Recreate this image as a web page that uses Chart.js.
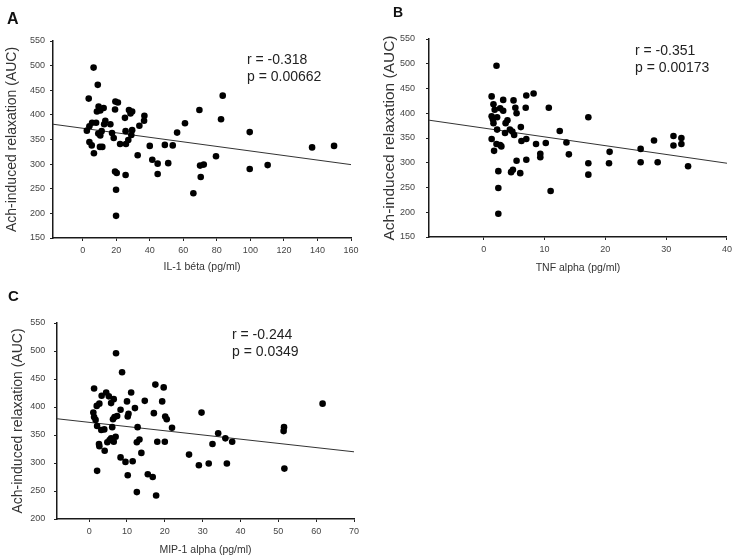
<!DOCTYPE html>
<html><head><meta charset="utf-8">
<script src="https://cdn.jsdelivr.net/npm/chart.js@4/dist/chart.umd.min.js"></script>
<style>
body{margin:0;background:#fff;width:736px;height:560px;position:relative;overflow:hidden;font-family:"Liberation Sans",Arial,sans-serif;}
canvas{position:absolute;}
.lbl{position:absolute;font-weight:bold;color:#111;line-height:1;}
.ann{position:absolute;font-size:14px;line-height:17px;color:#222;white-space:nowrap;}
</style></head><body>
<canvas id="cA" width="370" height="280" style="left:0;top:0"></canvas>
<canvas id="cB" width="366" height="280" style="left:370px;top:0"></canvas>
<canvas id="cC" width="370" height="280" style="left:0;top:280px"></canvas>
<div class="lbl" style="left:7px;top:11px;font-size:16px">A</div>
<div class="lbl" style="left:393px;top:5px;font-size:14px">B</div>
<div class="lbl" style="left:8px;top:288px;font-size:15px">C</div>
<div class="ann" style="left:247px;top:51px">r = -0.318<br>p = 0.00662</div>
<div class="ann" style="left:635px;top:42px">r = -0.351<br>p = 0.00173</div>
<div class="ann" style="left:232px;top:326px">r = -0.244<br>p = 0.0349</div>
<script>
const F = '"Liberation Sans", Arial, sans-serif';
const yTitle = 'Ach-induced relaxation (AUC)';

// Panel A: IL-1 béta
const il1Beta = [6.5,9,3.6,9.5,12.5,8.5,10.5,19.5,21,19.3,27.6,29.5,28.5,25.2,36.8,36.6,33.8,29.5,25.6,29,27.2,25.8,22.3,18.5,17.5,16.5,13.5,12.8,11.3,10.5,9.3,8,5.6,4,2.5,4,5.4,6.7,10.3,11.7,19.3,20.3,19.9,19.9,25.6,32.8,40,41.5,44.7,44.7,49,51,53.7,56.3,61,69.6,83.5,82.5,79.5,66,70,72.2,70.4,99.6,99.6,110.3,136.8,149.9];
const relaxA = [496,461,433,417,414,407,409,427,425,411,410,407,403,394,398,388,378,369,367,359,349,341,341,353,363,381,388,381,367,358,362,384,384,377,368,345,338,322,335,335,285,282,248,195,278,318,337,309,301,280,339,302,338,364,383,410,439,391,316,241,297,299,274,365,290,298,334,337];
const fitAx = [-17.7,160], fitAy = [381,299];
const xTicksA = [0,20,40,60,80,100,120,140,160];
const yTicksA = [150,200,250,300,350,400,450,500,550];

// Panel B: TNF alpha
const tnfAlpha = [2.1,1.3,3.2,4.9,7,8.2,10.7,6.9,5.2,5.4,1.6,1.8,2.7,3.2,1.3,1.5,1.6,2.2,3.9,3.6,2.2,3.5,4.3,4.7,5,6.1,7,6.2,8.6,10.2,12.5,13.6,14,9.3,9.3,1.3,2.1,2.7,2.9,1.7,2.4,2.4,2.4,5.4,4.8,4.5,6,7,11,17.2,17.2,17.2,20.7,20.6,25.8,25.8,28,28.6,31.2,31.2,32.5,32.5,33.6];
const relaxB = [496,434,427,426,436,440,411,411,411,400,418,407,410,405,394,388,380,392,386,380,367,360,367,363,356,372,348,344,338,340,364,341,317,318,311,348,338,336,333,324,283,249,197,304,286,281,279,306,243,392,299,276,322,299,328,301,345,301,354,335,350,338,293];
const fitBx = [-9,40], fitBy = [386,299];
const xTicksB = [0,10,20,30,40];
const yTicksB = [150,200,250,300,350,400,450,500,550];

// Panel C: MIP-1 alpha
const mip1Alpha = [7.1,8.7,1.3,4.5,3.3,5.2,11.1,6.5,5.8,2.7,2,10,14.7,17.5,19.7,19.3,12.1,10.4,8.3,10.2,7.4,6.7,6.3,1.1,1.3,1.7,2.1,3.2,4,6.1,17.1,20.1,20.5,21.9,12.8,18,20,13.3,12.6,7,5.8,5.4,6.5,4.8,2.6,2.7,4.1,8.3,9.6,11.5,13.8,2.1,10.2,15.5,16.8,12.6,17.7,29.7,26.4,29,31.6,32.6,34.1,36,36.4,37.8,51.5,51.4,51.6,61.7];
const relaxC = [496,462,433,426,420,419,426,414,407,406,402,410,411,440,435,410,398,388,395,383,384,382,378,390,382,377,366,359,360,364,389,383,378,363,364,338,338,342,337,347,344,341,338,337,334,330,322,310,302,303,318,286,278,280,275,248,242,390,315,296,299,334,353,344,299,338,364,357,290,406];
const fitCx = [-8.5,70], fitCy = [379,320];
const xTicksC = [0,10,20,30,40,50,60,70];
const yTicksC = [200,250,300,350,400,450,500,550];

function panel(id, o){
  new Chart(document.getElementById(id), {
    type:'scatter',
    data:{datasets:[
      {data:o.xs.map((x,i)=>({x:x, y:o.ys[i]})), backgroundColor:'#000', borderColor:'#000', pointRadius:3.3, pointHoverRadius:3.3, borderWidth:0},
      {type:'line', data:o.fx.map((x,i)=>({x:x, y:o.fy[i]})), borderColor:'#333', borderWidth:1, pointRadius:0, fill:false}
    ]},
    options:{
      responsive:false, animation:false, devicePixelRatio:1,
      layout:{padding:{top:o.padTop, right:o.padRight, left:0, bottom:0}},
      plugins:{legend:{display:false}, tooltip:{enabled:false}},
      scales:{
        x:{type:'linear', min:o.xmin, max:o.xmax,
          afterBuildTicks:s=>{s.ticks=o.xticks.map(v=>({value:v}));},
          afterFit:s=>{s.height=o.xH;},
          grid:{drawOnChartArea:false, drawTicks:true, tickLength:3, color:'#222'},
          border:{color:'#1a1a1a', width:1.5},
          ticks:{font:{size:9, family:F}, color:'#444', padding:o.xPad, maxRotation:0, autoSkip:false},
          title:{display:true, text:o.xTitle, font:{size:10.5, family:F, lineHeight:1.2}, color:'#333', padding:{top:0, bottom:o.xTitlePad}}
        },
        y:{type:'linear', min:o.ymin, max:o.ymax,
          afterBuildTicks:s=>{s.ticks=o.yticks.map(v=>({value:v}));},
          afterFit:s=>{s.width=o.yW;},
          grid:{drawOnChartArea:false, drawTicks:true, tickLength:3, color:'#222'},
          border:{color:'#1a1a1a', width:1.5},
          ticks:{font:{size:9, family:F}, color:'#444', padding:o.yPad, autoSkip:false},
          title:{display:true, text:yTitle, font:{size:o.yTitleSize, family:F, lineHeight:1.2}, color:'#333', padding:{top:o.yTitlePad, bottom:0}}
        }
      }
    }
  });
}

panel('cA', {xs:il1Beta, ys:relaxA, fx:fitAx, fy:fitAy, xmin:-17.7, xmax:160, ymin:150, ymax:550,
  xticks:xTicksA, yticks:yTicksA, padTop:41, padRight:19, xH:42, yW:53, xPad:4, yPad:5,
  xTitle:'IL-1 béta (pg/ml)', xTitlePad:7, yTitleSize:14, yTitlePad:3.6});
panel('cB', {xs:tnfAlpha, ys:relaxB, fx:fitBx, fy:fitBy, xmin:-9, xmax:40, ymin:150, ymax:550,
  xticks:xTicksB, yticks:yTicksB, padTop:39, padRight:8, xH:43, yW:59, xPad:4, yPad:11,
  xTitle:'TNF alpha (pg/ml)', xTitlePad:6, yTitleSize:15.5, yTitlePad:10});
panel('cC', {xs:mip1Alpha, ys:relaxC, fx:fitCx, fy:fitCy, xmin:-8.5, xmax:70, ymin:200, ymax:550,
  xticks:xTicksC, yticks:yTicksC, padTop:43, padRight:16, xH:41, yW:57, xPad:4, yPad:8.7,
  xTitle:'MIP-1 alpha (pg/ml)', xTitlePad:4, yTitleSize:14, yTitlePad:9.9});
</script>
</body></html>
